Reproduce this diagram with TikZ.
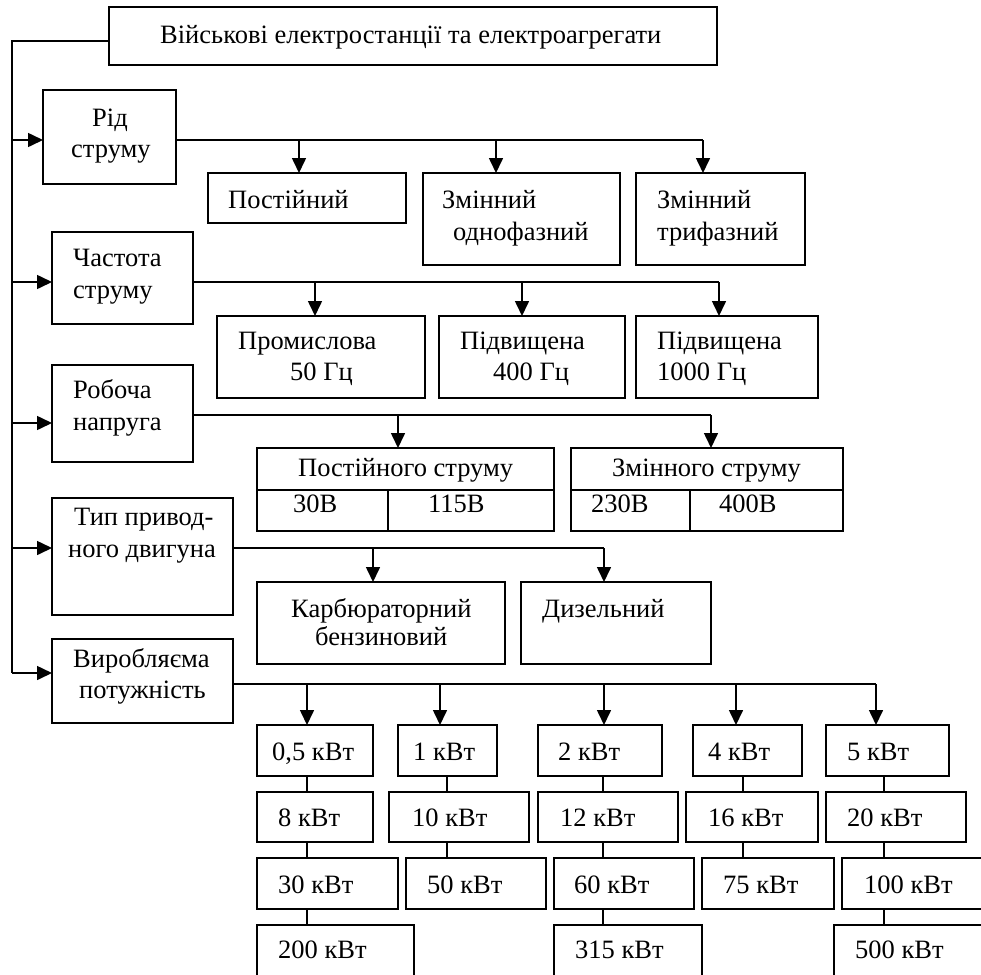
\documentclass[tikz,border=0pt]{standalone}
\usepackage{fontspec}
\setmainfont{Liberation Serif}
\usetikzlibrary{arrows.meta}
\tikzset{
  box/.style={draw, line width=1.6pt, inner sep=0pt, outer sep=0pt, anchor=north west},
  txt/.style={inner sep=0pt, anchor=base west, font=\fontsize{26.5}{31}\selectfont},
  link/.style={line width=1.6pt},
  arr/.style={line width=1.6pt, -{Triangle[length=15pt,width=14pt]}},
  conn/.style={line width=1.1pt}
}
\newcommand\bx[5]{\node[box, minimum width=#4pt-#2pt, minimum height=#5pt-#3pt] (#1) at (#2,#3) {};}
\newcommand\tl[4]{\node[txt] (#1) at (#2,#3) {#4};}
\begin{document}
\begin{tikzpicture}[x=1pt,y=-1pt]
\path[use as bounding box] (0,0) rectangle (981,974);
\clip (0,0) rectangle (981,974);
% boxes
\bx{title}{109}{7}{717}{65}
\bx{rid}{43}{90}{176}{184}
\bx{post}{208}{173}{406}{223}
\bx{zod}{423}{173}{620}{265}
\bx{ztr}{636}{173}{805}{265}
\bx{chas}{52}{232}{193}{324}
\bx{prom}{217}{316}{425}{398}
\bx{pfour}{439}{316}{625}{398}
\bx{pthou}{636}{316}{818}{398}
\bx{rob}{52}{365}{193}{462}
\bx{pst}{257}{448}{554}{531}
\bx{zst}{571}{448}{843}{531}
\bx{typ}{52}{498}{233}{615}
\bx{karb}{257}{582}{505}{664}
\bx{diz}{521}{582}{711}{664}
\bx{vyr}{52}{639}{233}{723}
% power boxes
\bx{a1}{257}{725}{373}{776}
\bx{a2}{257}{792}{373}{842}
\bx{a3}{257}{858}{398}{909}
\bx{a4}{257}{925}{414}{1000}
\bx{b1}{398}{725}{497}{776}
\bx{b2}{389}{792}{529}{842}
\bx{b3}{406}{858}{546}{909}
\bx{c1}{538}{725}{662}{776}
\bx{c2}{538}{792}{678}{842}
\bx{c3}{554}{858}{694}{909}
\bx{c4}{554}{925}{702}{1000}
\bx{d1}{693}{725}{802}{776}
\bx{d2}{686}{792}{818}{842}
\bx{d3}{702}{858}{834}{909}
\bx{e1}{826}{725}{949}{776}
\bx{e2}{826}{792}{966}{842}
\bx{e3}{842}{858}{1010}{909}
\bx{e4}{834}{925}{1010}{1000}
% table dividers
\draw[conn, line width=1.4pt] (pst.west |- 0,490) -- (pst.east |- 0,490);
\draw[conn, line width=1.4pt] (388,0 |- pst.south) -- (388,490);
\draw[conn, line width=1.4pt] (zst.west |- 0,490) -- (zst.east |- 0,490);
\draw[conn, line width=1.4pt] (690,0 |- zst.south) -- (690,490);
% trunk
\coordinate (k0) at (12,41);
\coordinate (k1) at (12,140);
\coordinate (k2) at (12,282);
\coordinate (k3) at (12,423);
\coordinate (k4) at (12,548);
\coordinate (k5) at (12,673);
\draw[link] (title.west |- k0) -- (k0) -- (k5);
\draw[arr] (k1) -- (rid.west |- k1);
\draw[arr] (k2) -- (chas.west |- k2);
\draw[arr] (k3) -- (rob.west |- k3);
\draw[arr] (k4) -- (typ.west |- k4);
\draw[arr] (k5) -- (vyr.west |- k5);
% rid branches
\draw[link] (rid.east |- 0,140) -- (703,140);
\draw[arr] (299,140) -- (299,0 |- post.north);
\draw[arr] (496,140) -- (496,0 |- zod.north);
\draw[arr] (703,140) -- (703,0 |- ztr.north);
% chas branches
\draw[link] (chas.east |- 0,282) -- (719,282);
\draw[arr] (315,282) -- (315,0 |- prom.north);
\draw[arr] (522,282) -- (522,0 |- pfour.north);
\draw[arr] (719,282) -- (719,0 |- pthou.north);
% rob branches
\draw[link] (rob.east |- 0,415) -- (711,415);
\draw[arr] (398,415) -- (398,0 |- pst.north);
\draw[arr] (711,415) -- (711,0 |- zst.north);
% typ branches
\draw[link] (typ.east |- 0,548) -- (604,548);
\draw[arr] (373,548) -- (373,0 |- karb.north);
\draw[arr] (604,548) -- (604,0 |- diz.north);
% vyr branches
\draw[link] (vyr.east |- 0,684) -- (876,684);
\draw[arr] (307,684) -- (307,0 |- a1.north);
\draw[arr] (440,684) -- (440,0 |- b1.north);
\draw[arr] (604,684) -- (604,0 |- c1.north);
\draw[arr] (736,684) -- (736,0 |- d1.north);
\draw[arr] (876,684) -- (876,0 |- e1.north);
% chains
\draw[conn] (307,0 |- a1.south) -- (307,0 |- a2.north);
\draw[conn] (307,0 |- a2.south) -- (307,0 |- a3.north);
\draw[conn] (307,0 |- a3.south) -- (307,0 |- a4.north);
\draw[conn] (447,0 |- b1.south) -- (447,0 |- b2.north);
\draw[conn] (447,0 |- b2.south) -- (447,0 |- b3.north);
\draw[conn] (603,0 |- c1.south) -- (603,0 |- c2.north);
\draw[conn] (603,0 |- c2.south) -- (603,0 |- c3.north);
\draw[conn] (603,0 |- c3.south) -- (603,0 |- c4.north);
\draw[conn] (743,0 |- d1.south) -- (743,0 |- d2.north);
\draw[conn] (743,0 |- d2.south) -- (743,0 |- d3.north);
\draw[conn] (884,0 |- e1.south) -- (884,0 |- e2.north);
\draw[conn] (884,0 |- e2.south) -- (884,0 |- e3.north);
\draw[conn] (884,0 |- e3.south) -- (884,0 |- e4.north);
% texts
\tl{t1}{160}{44}{Військові електростанції та електроагрегати}
\tl{t2}{92}{126}{Рід}
\tl{t3}{71}{157}{струму}
\tl{t4}{228}{208}{Постійний}
\tl{t5}{442}{208}{Змінний}
\tl{t6}{453}{240}{однофазний}
\tl{t7}{657}{208}{Змінний}
\tl{t8}{657}{240}{трифазний}
\tl{t9}{73}{266}{Частота}
\tl{t10}{73}{298}{струму}
\tl{t11}{238}{349}{Промислова}
\tl{t12}{290}{380}{50 Гц}
\tl{t13}{460}{349}{Підвищена}
\tl{t14}{493}{380}{400 Гц}
\tl{t15}{657}{349}{Підвищена}
\tl{t16}{657}{380}{1000 Гц}
\tl{t17}{73}{398}{Робоча}
\tl{t18}{73}{430}{напруга}
\tl{t19}{298}{476}{Постійного струму}
\tl{t20}{293}{512}{30В}
\tl{t21}{428}{512}{115В}
\tl{t22}{612}{476}{Змінного струму}
\tl{t23}{591}{512}{230В}
\tl{t24}{719}{512}{400В}
\tl{t25}{74}{525}{Тип привод-}
\tl{t26}{68}{557}{ного двигуна}
\tl{t27}{291}{617}{Карбюраторний}
\tl{t28}{315}{645}{бензиновий}
\tl{t29}{542}{617}{Дизельний}
\tl{t30}{73}{667}{Виробляєма}
\tl{t31}{79}{698}{потужність}
\tl{pa1}{272}{760}{0,5 кВт}
\tl{pa2}{278}{826}{8 кВт}
\tl{pa3}{278}{893}{30 кВт}
\tl{pa4}{278}{958}{200 кВт}
\tl{pb1}{413}{760}{1 кВт}
\tl{pb2}{412}{826}{10 кВт}
\tl{pb3}{427}{893}{50 кВт}
\tl{pc1}{558}{760}{2 кВт}
\tl{pc2}{560}{826}{12 кВт}
\tl{pc3}{574}{893}{60 кВт}
\tl{pc4}{575}{958}{315 кВт}
\tl{pd1}{708}{760}{4 кВт}
\tl{pd2}{708}{826}{16 кВт}
\tl{pd3}{723}{893}{75 кВт}
\tl{pe1}{847}{760}{5 кВт}
\tl{pe2}{847}{826}{20 кВт}
\tl{pe3}{864}{893}{100 кВт}
\tl{pe4}{855}{958}{500 кВт}
\end{tikzpicture}
\end{document}
